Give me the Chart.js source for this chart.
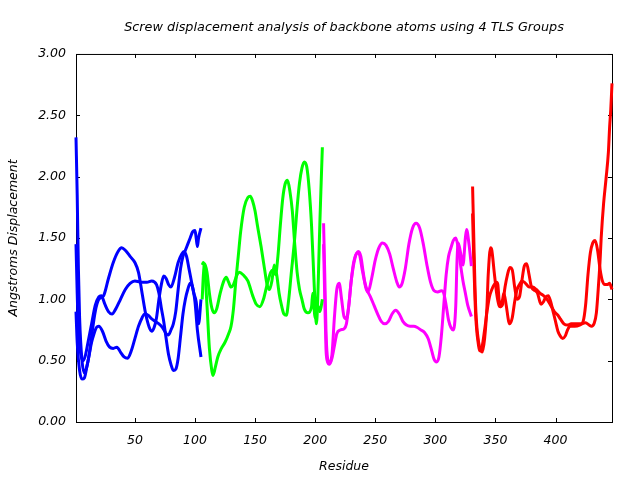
<!DOCTYPE html>
<html>
<head>
<meta charset="UTF-8">
<title>Screw displacement analysis</title>
<script src="https://cdn.jsdelivr.net/npm/chart.js@4.4.0/dist/chart.umd.min.js"></script>
<style>
  body { margin: 0; background: #fff; }
  canvas { display: block; }
</style>
</head>
<body>
<canvas id="chart" width="640" height="480"></canvas>
<script>
// tick labels
const xTicks = [50, 100, 150, 200, 250, 300, 350, 400];
const yTicks = [0, 0.5, 1, 1.5, 2, 2.5, 3];

// TLS group 1 (blue), three screw axes
const blue1Res = [1, 2, 3, 4, 6, 8, 10, 12, 14, 17, 20, 24, 28, 32, 36, 39, 42, 46, 50, 53, 56, 59, 62, 64, 66, 68, 70, 72, 74, 76, 78, 80, 83, 86, 89, 91, 93, 95, 97, 99, 101, 102, 103, 105];
const blue1Val = [2.32, 1.85, 1.25, 0.85, 0.5, 0.4, 0.45, 0.55, 0.7, 0.9, 1.0, 1.03, 1.17, 1.3, 1.39, 1.42, 1.4, 1.35, 1.3, 1.22, 1.05, 0.88, 0.77, 0.74, 0.77, 0.85, 1.0, 1.12, 1.19, 1.17, 1.12, 1.1, 1.18, 1.3, 1.37, 1.39, 1.35, 1.25, 1.15, 1.05, 0.98, 0.88, 0.8, 1.0];
const blue2Res = [1, 2, 3, 5, 7, 9, 11, 14, 17, 20, 22, 25, 28, 31, 34, 38, 42, 46, 50, 55, 60, 64, 68, 70, 72, 74, 76, 78, 80, 82, 84, 86, 88, 90, 92, 94, 96, 98, 100, 102, 105];
const blue2Val = [1.45, 1.05, 0.75, 0.55, 0.5, 0.55, 0.65, 0.8, 0.95, 1.02, 1.03, 0.96, 0.9, 0.88, 0.92, 1.0, 1.08, 1.13, 1.15, 1.14, 1.14, 1.15, 1.12, 1.05, 0.93, 0.82, 0.68, 0.55, 0.47, 0.42, 0.43, 0.52, 0.7, 0.88, 1.0, 1.08, 1.13, 1.1, 0.98, 0.75, 0.53];
const blue3Res = [1, 2, 4, 6, 8, 10, 12, 14, 16, 18, 20, 23, 26, 29, 32, 35, 38, 41, 44, 47, 50, 53, 56, 58, 61, 64, 67, 70, 73, 76, 78, 80, 82, 84, 86, 88, 90, 92, 94, 96, 98, 100, 101, 102, 103, 105];
const blue3Val = [0.9, 0.65, 0.42, 0.35, 0.36, 0.45, 0.55, 0.65, 0.72, 0.77, 0.78, 0.74, 0.66, 0.61, 0.6, 0.61, 0.57, 0.53, 0.52, 0.58, 0.68, 0.78, 0.85, 0.88, 0.87, 0.84, 0.82, 0.8, 0.77, 0.72, 0.71, 0.75, 0.8, 0.9, 1.08, 1.25, 1.35, 1.4, 1.45, 1.5, 1.55, 1.56, 1.5, 1.43, 1.5, 1.58];

// TLS group 2 (green)
const green1Res = [106, 107, 108, 110, 112, 114, 116, 118, 121, 124, 126, 128, 130, 132, 135, 137, 140, 144, 148, 151, 154, 157, 160, 163, 165, 167, 169, 171, 173, 175, 177, 179, 181, 183, 185, 187, 189, 191, 194, 197, 198, 200, 202, 204, 206];
const green1Val = [1.0, 1.2, 1.29, 1.22, 1.05, 0.93, 0.89, 0.92, 1.05, 1.15, 1.18, 1.14, 1.1, 1.12, 1.2, 1.22, 1.2, 1.15, 1.03, 0.96, 0.94, 1.0, 1.12, 1.22, 1.24, 1.2, 1.35, 1.6, 1.82, 1.94, 1.97, 1.88, 1.72, 1.45, 1.22, 1.08, 1.0, 0.92, 0.89, 0.94, 1.05, 0.85, 0.95, 0.9, 1.0];
const green2Res = [106, 107, 108, 110, 112, 114, 115, 117, 119, 122, 125, 128, 130, 132, 134, 136, 138, 141, 144, 146, 148, 150, 152, 155, 158, 160, 162, 164, 166, 168, 170, 172, 174, 176, 178, 180, 183, 185, 187, 189, 191, 193, 195, 197, 199, 200, 201, 202, 203, 204, 205, 206];
const green2Val = [1.28, 1.3, 1.25, 0.95, 0.6, 0.42, 0.38, 0.45, 0.53, 0.6, 0.65, 0.72, 0.78, 0.92, 1.15, 1.35, 1.55, 1.75, 1.83, 1.84, 1.8, 1.72, 1.6, 1.43, 1.24, 1.12, 1.08, 1.15, 1.28, 1.2, 1.05, 0.95, 0.88, 0.87, 1.0, 1.2, 1.5, 1.75, 1.95, 2.07, 2.12, 2.08, 1.9, 1.6, 1.16, 0.95, 0.8, 0.95, 1.3, 1.65, 1.95, 2.24];

// TLS group 3 (magenta)
const magenta1Res = [207, 208, 209, 210, 212, 214, 216, 218, 220, 222, 224, 226, 228, 230, 233, 236, 238, 240, 242, 244, 247, 250, 253, 256, 259, 262, 265, 268, 270, 272, 275, 278, 281, 284, 287, 290, 293, 296, 299, 302, 305, 307, 309, 311, 313, 315, 317, 318, 319, 321, 323, 325, 326, 328, 330];
const magenta1Val = [1.62, 1.2, 0.75, 0.55, 0.48, 0.55, 0.85, 1.08, 1.13, 1.0, 0.86, 0.84, 0.95, 1.15, 1.33, 1.39, 1.35, 1.22, 1.1, 1.06, 1.17, 1.32, 1.42, 1.46, 1.44, 1.37, 1.25, 1.14, 1.1, 1.12, 1.25, 1.45, 1.58, 1.62, 1.58, 1.45, 1.28, 1.14, 1.07, 1.06, 1.07, 1.05, 0.95, 0.83, 0.77, 0.75, 0.95, 1.3, 1.46, 1.38, 1.28, 1.5, 1.57, 1.45, 1.27];
const magenta2Res = [207, 208, 209, 210, 212, 214, 216, 218, 221, 224, 226, 228, 230, 232, 235, 237, 239, 241, 243, 246, 249, 252, 255, 258, 261, 264, 267, 270, 273, 276, 279, 282, 285, 288, 291, 294, 297, 299, 301, 303, 305, 307, 309, 311, 313, 315, 317, 319, 321, 323, 325, 327, 330];
const magenta2Val = [1.45, 1.0, 0.6, 0.5, 0.47, 0.52, 0.62, 0.72, 0.75, 0.76, 0.8, 0.95, 1.15, 1.3, 1.38, 1.36, 1.25, 1.15, 1.08, 1.02, 0.95, 0.88, 0.82, 0.8, 0.82, 0.88, 0.91, 0.88, 0.82, 0.79, 0.78, 0.78, 0.77, 0.75, 0.73, 0.68, 0.58, 0.51, 0.49, 0.53, 0.7, 0.95, 1.2, 1.35, 1.42, 1.48, 1.5, 1.42, 1.28, 1.15, 1.05, 0.95, 0.86];

// TLS group 4 (red)
const red1Res = [331, 332, 333, 334, 336, 338, 339, 341, 343, 344, 346, 347, 349, 351, 353, 354, 356, 358, 360, 362, 364, 366, 368, 370, 372, 374, 376, 378, 380, 383, 385, 387, 388, 390, 392, 394, 396, 398, 400, 402, 404, 406, 408, 410, 412, 416, 420, 423, 425, 427, 429, 431, 433, 435, 437, 439, 441, 443, 445, 447];
const red1Val = [1.92, 1.5, 1.1, 0.85, 0.65, 0.58, 0.57, 0.68, 0.95, 1.2, 1.42, 1.4, 1.22, 1.05, 0.95, 0.94, 0.96, 1.1, 1.2, 1.26, 1.24, 1.1, 1.0, 1.02, 1.15, 1.27, 1.29, 1.2, 1.1, 1.07, 1.05, 0.98, 0.96, 0.98, 1.02, 1.03, 0.98, 0.9, 0.82, 0.74, 0.7, 0.68, 0.7, 0.75, 0.78, 0.78, 0.79, 0.82, 0.95, 1.2, 1.38, 1.46, 1.48, 1.4, 1.25, 1.15, 1.12, 1.12, 1.13, 1.08];
const red2Res = [331, 332, 333, 334, 336, 337, 339, 341, 343, 345, 347, 349, 351, 352, 353, 354, 356, 357, 359, 361, 362, 364, 366, 368, 370, 372, 374, 376, 378, 381, 384, 387, 390, 393, 396, 399, 402, 404, 407, 410, 413, 416, 419, 422, 425, 428, 430, 432, 434, 436, 437, 438, 440, 442, 444, 445, 446, 447];
const red2Val = [1.7, 1.3, 1.0, 0.8, 0.62, 0.58, 0.62, 0.75, 0.9, 1.02, 1.08, 1.12, 1.14, 1.12, 1.0, 0.94, 1.0, 1.05, 0.95, 0.82, 0.8, 0.85, 0.98, 1.08, 1.12, 1.15, 1.14, 1.12, 1.1, 1.1, 1.08, 1.05, 1.03, 1.0, 0.95, 0.9, 0.87, 0.84, 0.8, 0.79, 0.8, 0.8, 0.8, 0.8, 0.81, 0.79, 0.78, 0.8, 0.89, 1.15, 1.3, 1.5, 1.78, 1.98, 2.2, 2.4, 2.55, 2.76];

const titleText = 'Screw displacement analysis of backbone atoms using 4 TLS Groups';
const font = { family: 'DejaVu Sans', size: 12.5, style: 'italic', weight: 'normal' };
const titleFont = { family: 'DejaVu Sans', size: 12.8, style: 'italic', weight: 'normal' };

function trace(res, val, color) {
    return {
        data: res.map((r, i) => ({ x: r, y: val[i] })),
        borderColor: color,
        borderWidth: 3,
        pointRadius: 0,
        fill: false,
        cubicInterpolationMode: 'monotone',
        clip: false
    };
}

// gnuplot style frame with inward ticks on all four sides
const gnuplotFrame = {
    id: 'gnuplotFrame',
    beforeDatasetsDraw(chart) {
        const { ctx, chartArea: a, scales: { x, y } } = chart;
        ctx.save();
        ctx.strokeStyle = '#000';
        ctx.lineWidth = 1;
        ctx.strokeRect(a.left + 0.5, a.top + 0.5, a.right - a.left, a.bottom - a.top);
        ctx.beginPath();
        xTicks.forEach(v => {
            const px = Math.round(x.getPixelForValue(v)) + 0.5;
            ctx.moveTo(px, a.bottom); ctx.lineTo(px, a.bottom - 4);
            ctx.moveTo(px, a.top); ctx.lineTo(px, a.top + 4);
        });
        yTicks.forEach(v => {
            const py = Math.round(y.getPixelForValue(v)) + 0.5;
            ctx.moveTo(a.left, py); ctx.lineTo(a.left + 4, py);
            ctx.moveTo(a.right, py); ctx.lineTo(a.right - 4, py);
        });
        ctx.stroke();
        ctx.restore();
    }
};

new Chart(document.getElementById('chart'), {
    type: 'line',
    data: {
        datasets: [
            trace(blue1Res, blue1Val, '#0000ff'),
            trace(blue2Res, blue2Val, '#0000ff'),
            trace(blue3Res, blue3Val, '#0000ff'),
            trace(green1Res, green1Val, '#00ff00'),
            trace(green2Res, green2Val, '#00ff00'),
            trace(magenta1Res, magenta1Val, '#ff00ff'),
            trace(magenta2Res, magenta2Val, '#ff00ff'),
            trace(red1Res, red1Val, '#ff0000'),
            trace(red2Res, red2Val, '#ff0000')
        ]
    },
    options: {
        responsive: false,
        animation: false,
        layout: { padding: { left: 0, right: 28, top: 0, bottom: 0 } },
        plugins: {
            legend: { display: false },
            tooltip: { enabled: false },
            title: {
                display: true,
                fullSize: false,
                text: titleText,
                color: '#000',
                font: titleFont,
                padding: { top: 19.5, bottom: 19.1 }
            }
        },
        scales: {
            x: {
                type: 'linear',
                min: 1,
                max: 447,
                grid: { display: false, drawTicks: false },
                border: { display: false },
                afterBuildTicks: s => { s.ticks = xTicks.map(v => ({ value: v })); },
                afterFit: s => { s.height = 58; },
                ticks: { padding: 11, color: '#000', font: font, maxRotation: 0, autoSkip: false },
                title: { display: true, text: 'Residue', color: '#000', font: font, padding: { top: 6, bottom: 6 } }
            },
            y: {
                min: 0,
                max: 3,
                grid: { display: false, drawTicks: false },
                border: { display: false },
                afterBuildTicks: s => { s.ticks = yTicks.map(v => ({ value: v })); },
                afterFit: s => { s.width = 76; },
                ticks: { padding: 10, color: '#000', font: font, callback: v => v.toFixed(2) },
                title: { display: true, text: 'Angstroms Displacement', color: '#000', font: font, padding: { top: 6, bottom: 6 } }
            }
        }
    },
    plugins: [gnuplotFrame]
});
</script>
</body>
</html>
